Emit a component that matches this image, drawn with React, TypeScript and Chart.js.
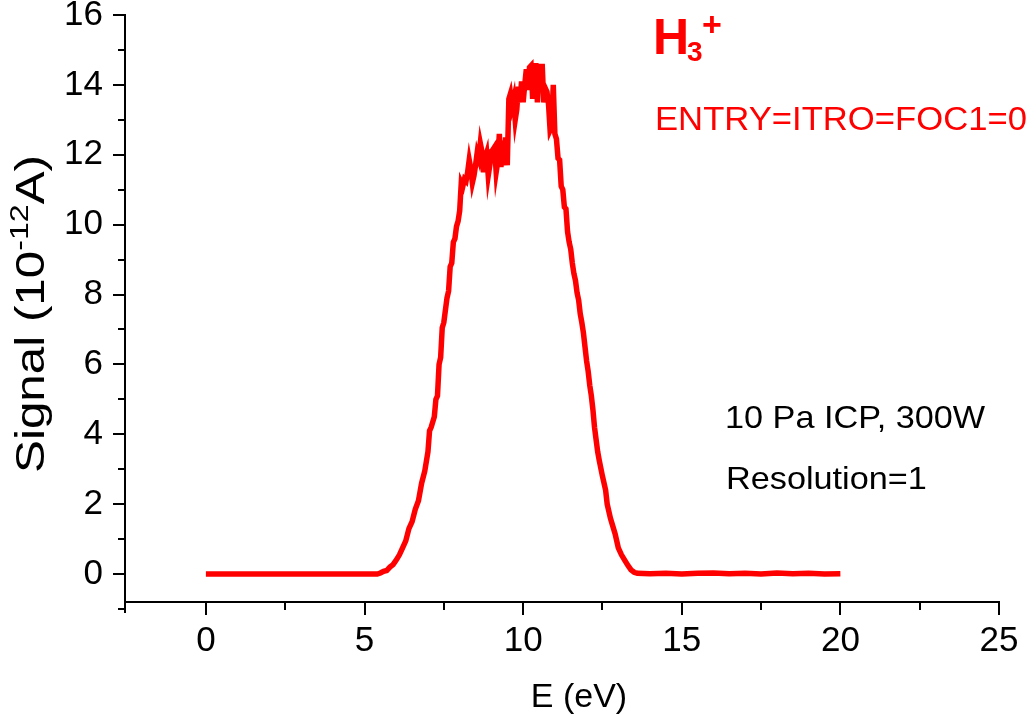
import React, { useEffect, useRef } from 'react';
import { Chart, registerables } from 'chart.js';

Chart.register(...registerables);

// Energy (eV)
const energy = [
  0, 1, 2, 3, 4, 5, 5.4,
  5.5, 5.6, 5.7, 5.8, 5.9, 6.0, 6.1, 6.2, 6.3, 6.4, 6.5, 6.6, 6.7, 6.8, 6.9,
  7.0, 7.05, 7.1, 7.2, 7.25, 7.3, 7.35, 7.4, 7.45, 7.5, 7.6, 7.65, 7.7, 7.75, 7.8, 7.85, 7.9, 7.95,
  8.0, 8.05, 8.1, 8.15, 8.2, 8.25, 8.3, 8.35, 8.4, 8.45, 8.5, 8.55, 8.6, 8.65, 8.7, 8.75, 8.8, 8.85, 8.9, 8.95,
  9.0, 9.05, 9.1, 9.15, 9.2, 9.25, 9.3, 9.35, 9.4, 9.45, 9.5, 9.55, 9.6, 9.65, 9.7, 9.75, 9.8, 9.85, 9.9, 9.95,
  10.0, 10.05, 10.1, 10.15, 10.2, 10.25, 10.3, 10.35, 10.4, 10.45, 10.5, 10.55, 10.6, 10.65, 10.7, 10.75, 10.8, 10.85, 10.9, 10.95,
  11.0, 11.05, 11.1, 11.15, 11.2, 11.25, 11.3, 11.35, 11.4, 11.45, 11.5, 11.55, 11.6, 11.65, 11.7, 11.75, 11.8, 11.85, 11.9, 11.95,
  12.0, 12.05, 12.1, 12.15, 12.2, 12.25, 12.3, 12.35, 12.4, 12.5, 12.55, 12.6, 12.65, 12.7, 12.75, 12.8, 12.9, 12.95,
  13.0, 13.1, 13.2, 13.3, 13.4, 13.5, 13.6, 14, 14.5, 15, 15.5, 16, 16.5, 17, 17.5, 18, 18.5, 19, 19.5, 20,
];

// Signal (10^-12 A)
const signal = [
  0, 0, 0, 0, 0, 0, 0,
  0.03, 0.08, 0.1, 0.2, 0.27, 0.4, 0.55, 0.75, 0.95, 1.3, 1.5, 1.85, 2.1, 2.6, 2.95,
  3.5, 4.1, 4.2, 4.5, 5.0, 5.1, 6.0, 6.2, 7.05, 7.2, 7.9, 8.1, 8.8, 8.9, 9.5, 9.6, 9.95, 10.1,
  10.4, 11.2, 11.1, 11.3, 11.25, 11.5, 11.85, 11.6, 11.2, 11.4, 11.7, 12.05, 11.9, 12.33, 12.1, 11.5, 11.9, 12.05, 11.4, 11.7,
  12.1, 12.15, 12.22, 11.5, 11.8, 12.6, 11.65, 12.4, 11.7, 12.5, 11.7, 13.6, 13.75, 13.4, 13.6, 13.0, 13.3, 13.95, 13.5, 14.1,
  13.5, 14.0, 14.45, 13.85, 14.5, 14.55, 13.6, 14.3, 14.62, 13.5, 14.6, 14.1, 14.6, 13.5, 13.9, 13.8, 13.45, 12.7, 12.8, 14.0,
  12.6, 12.45, 11.9, 11.85, 11.1, 11.0, 10.5, 10.45, 9.8, 9.5, 9.3, 8.9, 8.6, 8.4, 8.05, 7.84, 7.45, 7.2, 6.9, 6.5,
  6.1, 5.8, 5.4, 5.1, 4.7, 4.2, 3.85, 3.5, 3.25, 2.8, 2.6, 2.4, 2.0, 1.8, 1.6, 1.45, 1.15, 0.95,
  0.75, 0.55, 0.4, 0.25, 0.12, 0.05, 0.02, 0.01, 0.02, 0, 0.02, 0.03, 0.01, 0.02, 0, 0.03, 0.01, 0.02, 0, 0.01,
];

const xMajorTicks = [0, 5, 10, 15, 20, 25];
const xMinorTicks = [2.5, 7.5, 12.5, 17.5, 22.5];
const yMajorTicks = [0, 2, 4, 6, 8, 10, 12, 14, 16];
const yMinorTicks = [-1, 1, 3, 5, 7, 9, 11, 13, 15];

const FONT = '"Liberation Sans", Arial, Helvetica, sans-serif';

const decorPlugin = {
  id: 'decor',
  afterDraw(chart: any) {
    const ctx = chart.ctx as CanvasRenderingContext2D;
    const xs = chart.scales.x;
    const ys = chart.scales.y;
    const { left, bottom } = chart.chartArea;
    ctx.save();
    ctx.strokeStyle = '#000';
    ctx.lineWidth = 2;
    ctx.beginPath();
    // y-axis tail below the x-axis
    ctx.moveTo(left, bottom);
    ctx.lineTo(left, bottom + 11);
    for (const v of yMajorTicks) {
      const p = Math.round(ys.getPixelForValue(v));
      ctx.moveTo(left - 12, p);
      ctx.lineTo(left, p);
    }
    for (const v of yMinorTicks) {
      const p = Math.round(ys.getPixelForValue(v));
      ctx.moveTo(left - 7, p);
      ctx.lineTo(left, p);
    }
    for (const v of xMajorTicks) {
      const p = Math.round(xs.getPixelForValue(v));
      ctx.moveTo(p, bottom);
      ctx.lineTo(p, bottom + 13);
    }
    for (const v of xMinorTicks) {
      const p = Math.round(xs.getPixelForValue(v));
      ctx.moveTo(p, bottom);
      ctx.lineTo(p, bottom + 8);
    }
    ctx.stroke();

    // Axis titles
    ctx.fillStyle = '#000';
    ctx.textBaseline = 'alphabetic';
    ctx.textAlign = 'left';
    // y title with superscript
    ctx.save();
    ctx.translate(44, 473);
    ctx.rotate(-Math.PI / 2);
    const big = `40px ${FONT}`;
    const small = `26px ${FONT}`;
    ctx.font = big;
    const w1 = ctx.measureText('Signal (10').width;
    ctx.font = small;
    const w2 = ctx.measureText('-12').width;
    ctx.font = big;
    const w3 = ctx.measureText('A)').width;
    const sx = 318 / (w1 + w2 + w3);
    ctx.scale(sx, 1);
    ctx.font = big;
    ctx.fillText('Signal (10', 0, 0);
    ctx.font = small;
    ctx.fillText('-12', w1, -16);
    ctx.font = big;
    ctx.fillText('A)', w1 + w2, 0);
    ctx.restore();

    // x title
    ctx.font = `34px ${FONT}`;
    ctx.textAlign = 'center';
    ctx.fillText('E (eV)', 579, 707);

    // annotations
    ctx.textAlign = 'left';
    ctx.fillStyle = '#ff0000';
    ctx.font = `bold 50px ${FONT}`;
    ctx.fillText('H', 653, 54);
    ctx.font = `bold 28px ${FONT}`;
    ctx.fillText('3', 687, 61);
    ctx.font = `bold 34px ${FONT}`;
    ctx.fillText('+', 702, 36);
    ctx.font = `33px ${FONT}`;
    ctx.save();
    ctx.translate(655, 130);
    ctx.scale(1.05, 1);
    ctx.fillText('ENTRY=ITRO=FOC1=0', 0, 0);
    ctx.restore();

    ctx.fillStyle = '#000';
    ctx.font = `32px ${FONT}`;
    ctx.save();
    ctx.translate(725, 428);
    ctx.scale(1.07, 1);
    ctx.fillText('10 Pa ICP, 300W', 0, 0);
    ctx.restore();
    ctx.save();
    ctx.translate(726, 489);
    ctx.scale(1.07, 1);
    ctx.fillText('Resolution=1', 0, 0);
    ctx.restore();

    ctx.restore();
  },
};

export default function App() {
  const ref = useRef<HTMLCanvasElement>(null);
  useEffect(() => {
    const canvas = ref.current;
    if (!canvas) return;
    const chart = new Chart(canvas, {
      type: 'line',
      data: {
        datasets: [
          {
            data: energy.map((e, i) => ({ x: e, y: signal[i] })),
            borderColor: '#ff0000',
            borderWidth: 5.5,
            pointRadius: 0,
            tension: 0,
            fill: false,
          },
        ],
      },
      options: {
        responsive: false,
        animation: false,
        devicePixelRatio: 1,
        layout: { padding: { left: 0, right: 37, top: 15, bottom: 0 } },
        plugins: { legend: { display: false }, tooltip: { enabled: false }, title: { display: false } },
        scales: {
          x: {
            type: 'linear',
            min: -2.55,
            max: 25,
            grid: { display: true, drawOnChartArea: false, drawTicks: false },
            border: { display: true, color: '#000', width: 2 },
            ticks: {
              stepSize: 5,
              includeBounds: false,
              autoSkip: false,
              maxRotation: 0,
              padding: 18,
              color: '#000',
              font: { family: FONT, size: 35 },
              callback: (v: any) => (v >= 0 ? String(v) : ''),
            },
            afterFit: (s: any) => {
              s.height = 113;
              s.paddingLeft = 0;
              s.paddingRight = 0;
            },
          },
          y: {
            type: 'linear',
            min: -0.8,
            max: 16,
            grid: { display: true, drawOnChartArea: false, drawTicks: false },
            border: { display: true, color: '#000', width: 2 },
            ticks: {
              stepSize: 2,
              includeBounds: false,
              autoSkip: false,
              padding: 22,
              color: '#000',
              font: { family: FONT, size: 35 },
              callback: (v: any) => (v >= 0 ? String(v) : ''),
            },
            afterFit: (s: any) => {
              s.width = 125;
              s.paddingTop = 0;
              s.paddingBottom = 0;
            },
          },
        },
      },
      plugins: [decorPlugin],
    });
    return () => chart.destroy();
  }, []);
  return (
    <div style={{ position: 'fixed', left: 0, top: 0, width: 1036, height: 715, background: '#fff' }}>
      <canvas ref={ref} width={1036} height={715} style={{ display: 'block' }} />
    </div>
  );
}
